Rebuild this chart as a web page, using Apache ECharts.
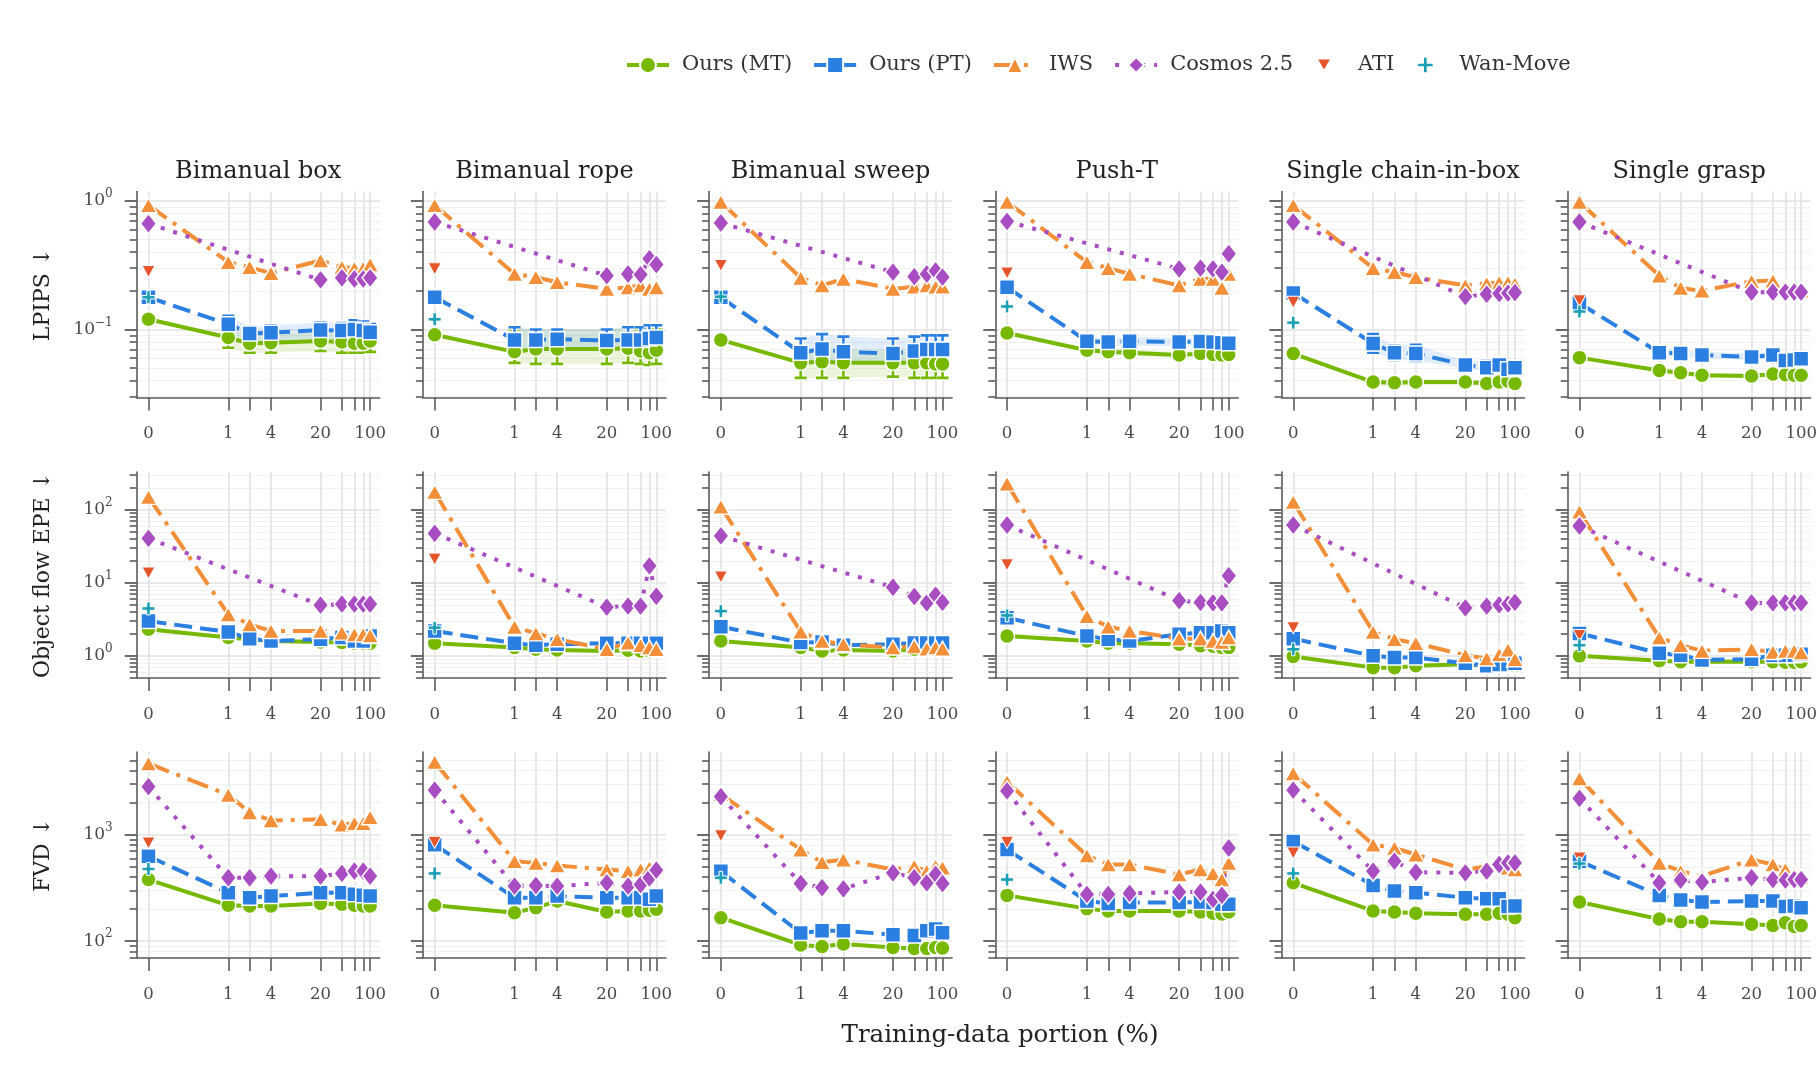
<!DOCTYPE html>
<html><head><meta charset="utf-8">
<script src="https://cdn.jsdelivr.net/npm/echarts@6/dist/echarts.min.js"></script>
<style>html,body{margin:0;padding:0;background:#fff}#c{width:1820px;height:1066px}</style>
</head><body><div id="c"></div>
<script>
// ---------------- DATA ----------------
const tasks = ['Bimanual box','Bimanual rope','Bimanual sweep','Push-T','Single chain-in-box','Single grasp'];
const metrics = ['LPIPS ↓','Object flow EPE ↓','FVD ↓'];
const methods = ['Ours (MT)','Ours (PT)','IWS','Cosmos 2.5','ATI','Wan-Move'];
const xs = [0,1,2,4,20,40,60,80,100];
const xLabelValues = [0,1,4,20,100];
const xErr = [1,2,4,20,40,60,80,100];

// LPIPS
const lpipsMT = [
 [0.120,0.0866,0.0778,0.079,0.0815,0.080,0.078,0.078,0.0815],
 [0.091,0.067,0.0705,0.0705,0.0705,0.0716,0.068,0.066,0.069],
 [0.083,0.055,0.056,0.055,0.055,0.055,0.055,0.054,0.054],
 [0.094,0.069,0.067,0.066,0.0634,0.065,0.064,0.0634,0.064],
 [0.065,0.039,0.0385,0.039,0.039,0.038,0.039,0.0395,0.038],
 [0.0604,0.048,0.046,0.044,0.0435,0.045,0.0445,0.044,0.044]];
const lpipsPT = [
 [0.178,0.110,0.093,0.0945,0.099,0.098,0.100,0.098,0.095],
 [0.178,0.083,0.083,0.084,0.082,0.083,0.083,0.085,0.0866],
 [0.178,0.066,0.0705,0.067,0.065,0.068,0.070,0.070,0.070],
 [0.213,0.081,0.080,0.081,0.080,0.0805,0.080,0.079,0.078],
 [0.192,0.0778,0.066,0.065,0.053,0.0505,0.053,0.049,0.0505],
 [0.160,0.066,0.065,0.0634,0.0611,0.0634,0.0575,0.058,0.0593]];
const lpipsIWS = [
 [0.925,0.334,0.305,0.274,0.344,0.305,0.300,0.300,0.320],
 [0.925,0.270,0.255,0.233,0.207,0.212,0.220,0.207,0.212],
 [0.980,0.252,0.220,0.247,0.207,0.215,0.220,0.215,0.215],
 [0.980,0.334,0.300,0.270,0.220,0.247,0.247,0.210,0.270],
 [0.925,0.300,0.279,0.255,0.220,0.228,0.232,0.232,0.226],
 [0.980,0.262,0.210,0.200,0.237,0.240,0.215,0.205,0.200]];
const lpipsCosmos = [
 [0.665,null,null,null,0.243,0.252,0.247,0.247,0.252],
 [0.685,null,null,null,0.262,0.270,0.267,0.355,0.320],
 [0.673,null,null,null,0.279,0.258,0.270,0.285,0.255],
 [0.694,null,null,null,0.296,0.300,0.296,0.279,0.388],
 [0.685,null,null,null,0.180,0.188,0.190,0.192,0.194],
 [0.685,null,null,null,0.195,0.195,0.195,0.195,0.195]];
const lpipsATI = [0.282,0.296,0.315,0.275,0.163,0.167];
const lpipsWan = [0.178,0.120,0.180,0.151,0.113,0.138];
// LPIPS spread (x = 1..100)
const lpipsMTLo = [
 [0.072,0.066,0.066,0.068,0.066,0.066,0.066,0.067],
 [0.055,0.054,0.054,0.054,0.055,0.054,0.053,0.054],
 [0.042,0.042,0.042,0.043,0.042,0.042,0.042,0.042],
 [0.064,0.063,0.062,0.060,0.061,0.060,0.060,0.061],
 [0.037,0.036,0.037,0.037,0.036,0.037,0.037,0.036],
 [0.045,0.044,0.042,0.042,0.043,0.042,0.042,0.042]];
const lpipsMTHi = [
 [0.100,0.090,0.092,0.095,0.093,0.091,0.091,0.095],
 [0.100,0.100,0.100,0.100,0.104,0.100,0.095,0.100],
 [0.070,0.072,0.070,0.070,0.070,0.070,0.070,0.070],
 [0.073,0.071,0.070,0.067,0.069,0.068,0.067,0.068],
 [0.041,0.041,0.041,0.041,0.040,0.041,0.042,0.040],
 [0.051,0.048,0.046,0.045,0.047,0.047,0.046,0.046]];
const lpipsPTLo = [
 [0.095,0.080,0.080,0.085,0.083,0.085,0.083,0.082],
 [0.072,0.072,0.072,0.070,0.072,0.072,0.073,0.074],
 [0.055,0.058,0.056,0.055,0.056,0.057,0.057,0.057],
 [0.075,0.074,0.075,0.074,0.075,0.074,0.073,0.072],
 [0.066,0.058,0.057,0.050,0.047,0.047,0.045,0.047],
 [0.062,0.061,0.060,0.058,0.060,0.055,0.055,0.056]];
const lpipsPTHi = [
 [0.128,0.105,0.108,0.113,0.112,0.118,0.115,0.110],
 [0.104,0.100,0.100,0.100,0.104,0.104,0.108,0.108],
 [0.085,0.092,0.088,0.085,0.088,0.090,0.090,0.090],
 [0.088,0.086,0.088,0.086,0.086,0.086,0.085,0.084],
 [0.092,0.075,0.076,0.057,0.057,0.058,0.056,0.055],
 [0.071,0.069,0.067,0.065,0.067,0.061,0.062,0.063]];

// Object flow EPE
const epeMT = [
 [2.31,1.78,1.69,1.60,1.55,1.52,1.49,1.49,1.49],
 [1.49,1.30,1.23,1.20,1.17,1.19,1.17,1.17,1.20],
 [1.60,1.30,1.17,1.20,1.17,1.23,1.23,1.23,1.23],
 [1.87,1.60,1.49,1.49,1.44,1.38,1.35,1.30,1.30],
 [0.98,0.69,0.69,0.73,0.77,0.73,0.75,0.75,0.73],
 [1.00,0.855,0.83,0.83,0.83,0.83,0.82,0.82,0.83]];
const epePT = [
 [2.99,2.12,1.72,1.60,1.69,1.78,1.60,1.60,1.87],
 [2.19,1.49,1.40,1.44,1.49,1.49,1.49,1.49,1.49],
 [2.50,1.52,1.55,1.40,1.44,1.50,1.50,1.50,1.50],
 [3.32,1.87,1.69,1.60,1.97,2.08,2.08,2.19,2.08],
 [1.72,1.00,0.95,0.95,0.79,0.73,0.76,0.76,0.79],
 [2.03,1.09,1.02,0.88,0.90,1.02,1.02,1.02,1.05]];
const epeIWS = [
 [150,3.69,2.70,2.19,2.19,2.08,1.97,1.97,1.91],
 [176,2.48,2.03,1.69,1.23,1.52,1.40,1.30,1.23],
 [110,2.14,1.60,1.44,1.30,1.35,1.25,1.30,1.25],
 [228,3.50,2.50,2.19,1.72,1.72,1.60,1.55,1.78],
 [128,2.12,1.69,1.49,1.02,0.92,1.05,1.21,0.90],
 [94,1.78,1.40,1.17,1.23,1.13,1.17,1.17,1.11]];
const epeCosmos = [
 [40.7,null,null,null,4.94,5.1,5.1,5.1,5.1],
 [47.6,null,null,null,4.64,4.8,4.8,17.1,6.55],
 [43.8,null,null,null,8.7,6.5,5.3,6.8,5.4],
 [61.9,null,null,null,5.72,5.4,5.3,5.3,12.5],
 [61.9,null,null,null,4.55,4.8,5.0,5.1,5.4],
 [60.0,null,null,null,5.3,5.3,5.3,5.3,5.3]];
const epeATI = [13.6,21.1,12.0,17.7,2.43,1.9];
const epeWan = [4.45,2.43,4.1,3.58,1.23,1.4];

// FVD
const fvdMT = [
 [379,217,214,214,226,222,217,214,214],
 [217,185,206,238,188,192,192,195,199],
 [166,92,89,94,87,85,85,87,86],
 [269,202,192,192,192,188,183,180,188],
 [353,192,188,183,179,179,183,179,166],
 [233,161,152,152,144,140,149,137,140]];
const fvdPT = [
 [627,285,256,265,285,285,275,270,265],
 [806,256,256,265,256,256,256,247,265],
 [454,119,125,125,115,113,125,130,120],
 [725,238,226,230,230,233,230,222,222],
 [866,334,295,285,256,250,250,211,214],
 [564,269,243,233,238,238,211,214,206]];
const fvdIWS = [
 [4680,2370,1620,1360,1400,1240,1285,1285,1460],
 [4840,564,543,513,471,455,471,490,500],
 [2400,725,551,583,471,505,455,505,490],
 [3150,637,525,525,423,471,433,380,543],
 [3770,806,750,650,471,505,525,490,471],
 [3390,543,454,408,583,525,471,430,400]];
const fvdCosmos = [
 [2830,394,394,408,408,433,455,455,408],
 [2630,329,333,329,353,329,340,394,464],
 [2280,348,318,310,438,394,353,424,348],
 [2580,275,275,281,289,289,247,269,750],
 [2630,454,564,444,438,454,525,543,543],
 [2200,353,374,359,394,379,374,379,379]];
const fvdATI = [836,848,980,848,674,605];
const fvdWan = [477,433,394,379,433,536];

// y-axis ranges (log10) per row
const yLogRange = [[-1.529,0.073],[-0.303,2.517],[1.841,3.778]];

// ---------------- BUILD ----------------
const FONT = "'DejaVu Serif', serif";
const ZERO_POS = -1.126;
const tx = x => (x === 0 ? ZERO_POS : Math.log10(x));
const ty = v => (v == null ? null : Math.log10(v));

const rows = [
 {MT: lpipsMT, PT: lpipsPT, IWS: lpipsIWS, COS: lpipsCosmos, ATI: lpipsATI, WAN: lpipsWan,
  band: {MT: [lpipsMTLo, lpipsMTHi], PT: [lpipsPTLo, lpipsPTHi]}},
 {MT: epeMT, PT: epePT, IWS: epeIWS, COS: epeCosmos, ATI: epeATI, WAN: epeWan},
 {MT: fvdMT, PT: fvdPT, IWS: fvdIWS, COS: fvdCosmos, ATI: fvdATI, WAN: fvdWan}
];

const plusPath = 'path://M4,0h3v4h4v3h-4v4h-3v-4h-4v-3h4z';
const downTri = 'path://M0,0L12,0L6,11Z';
const sty = {
 MT:  {name: methods[0], color: '#76b900', symbol: 'circle',  size: 15, type: 'solid'},
 PT:  {name: methods[1], color: '#2b7fe0', symbol: 'rect',    size: 15, type: [18, 8]},
 IWS: {name: methods[2], color: '#f28f38', symbol: 'triangle',size: [17, 15], type: [22, 8, 4, 8]},
 COS: {name: methods[3], color: '#a94ec2', symbol: 'diamond', size: [16, 20], type: [4, 9]},
 ATI: {name: methods[4], color: '#e5542b', symbol: downTri,   size: [13, 12]},
 WAN: {name: methods[5], color: '#1b9fb6', symbol: plusPath,  size: 13}
};

const PANEL_W = 243, PANEL_H = 206, COL0 = 136.7, COL_STEP = 286.2;
const rowTop = [191.5, 472, 752];
const X_MIN = -1.292, X_MAX = 2.135;

const grids = [], xAxes = [], yAxes = [], series = [], graphics = [];
const axisColor = '#5b5b5b';

function fmtX(v) {
  for (const x of xLabelValues) if (Math.abs(tx(x) - v) < 1e-6) return String(x);
  return '';
}
function fmtY(v) {
  const d = Math.round(v);
  return '{b|10}{s|' + (d < 0 ? '\u2212' + (-d) : String(d)) + '}';
}

for (let r = 0; r < 3; r++) {
  const [ymin, ymax] = yLogRange[r];
  const major = [], minor = [];
  for (let d = Math.floor(ymin) - 1; d <= Math.ceil(ymax); d++) {
    if (d >= ymin - 1e-9 && d <= ymax + 1e-9) major.push(d);
    for (let k = 2; k <= 9; k++) {
      const m = d + Math.log10(k);
      if (m >= ymin && m <= ymax) minor.push(m);
    }
  }
  const D = rows[r];
  for (let c = 0; c < 6; c++) {
    const p = r * 6 + c;
    const L = COL0 + c * COL_STEP;
    grids.push({left: L, top: rowTop[r], width: PANEL_W, height: PANEL_H});
    xAxes.push({
      type: 'value', gridIndex: p, min: X_MIN, max: X_MAX, position: 'bottom',
      axisLine: {show: true, onZero: false, lineStyle: {color: axisColor, width: 1.6}},
      axisTick: {show: true, customValues: xs.map(tx), length: 13, lineStyle: {color: axisColor, width: 1.6}},
      axisLabel: {show: true, customValues: xLabelValues.map(tx), formatter: fmtX, margin: 28,
                  fontFamily: FONT, fontSize: 16.5, color: '#4a4a4a'},
      splitLine: {show: true, lineStyle: {color: '#e4e4e4', width: 1.6}}
    });
    yAxes.push({
      type: 'value', gridIndex: p, min: ymin, max: ymax, position: 'left', offset: 0,
      axisLine: {show: true, onZero: false, lineStyle: {color: axisColor, width: 1.6}},
      axisTick: {show: true, customValues: major, length: 12, lineStyle: {color: axisColor, width: 1.8}},
      axisLabel: {show: c === 0, customValues: major, formatter: fmtY, margin: 24,
        rich: {
          b: {fontFamily: FONT, fontSize: 17, color: '#4a4a4a'},
          s: {fontFamily: FONT, fontSize: 12, color: '#4a4a4a', padding: [0, 0, 14, 0]}
        }},
      splitLine: {show: true, lineStyle: {color: '#e2e2e2', width: 1.6}}
    });
    yAxes.push({
      type: 'value', gridIndex: p, min: ymin, max: ymax, position: 'left', offset: 0,
      axisLine: {show: false, onZero: false},
      axisTick: {show: true, customValues: minor, length: 7, lineStyle: {color: axisColor, width: 1.6}},
      axisLabel: {show: false},
      splitLine: {show: true, lineStyle: {color: '#f1f1f1', width: 1}}
    });
    const yi = 2 * p;

    // ribbons + error bars (where spread data exist)
    if (D.band) {
      for (const key of ['MT', 'PT']) {
        const [lo, hi] = D.band[key];
        const s = sty[key];
        const bandData = xErr.map((x, i) => [tx(x), ty(lo[c][i]), ty(hi[c][i])]);
        series.push({
          type: 'custom', name: key + '-band', xAxisIndex: p, yAxisIndex: yi, z: 1, silent: true, clip: true,
          data: bandData, encode: {x: 0, y: [1, 2]},
          renderItem: (params, api) => {
            if (params.dataIndex !== 0) return null;
            const n = params.dataInsideLength, pts = [];
            for (let i = 0; i < n; i++) pts.push(api.coord([api.value(0, i), api.value(1, i)]));
            for (let i = n - 1; i >= 0; i--) pts.push(api.coord([api.value(0, i), api.value(2, i)]));
            return {type: 'polygon', shape: {points: pts}, style: {fill: s.color, opacity: 0.14}};
          }
        });
        series.push({
          type: 'custom', name: key + '-err', xAxisIndex: p, yAxisIndex: yi, z: 3, silent: true, clip: true,
          data: bandData, encode: {x: 0, y: [1, 2]},
          renderItem: (params, api) => {
            const a = api.coord([api.value(0), api.value(1)]);
            const b = api.coord([api.value(0), api.value(2)]);
            const h = 6;
            const mk = (w, col) => [
              {type: 'line', shape: {x1: a[0], y1: a[1], x2: b[0], y2: b[1]}, style: {stroke: col, lineWidth: w}},
              {type: 'line', shape: {x1: a[0] - h, y1: a[1], x2: a[0] + h, y2: a[1]}, style: {stroke: col, lineWidth: w}},
              {type: 'line', shape: {x1: b[0] - h, y1: b[1], x2: b[0] + h, y2: b[1]}, style: {stroke: col, lineWidth: w}}
            ];
            return {type: 'group', children: mk(5, '#ffffff').concat(mk(2.6, s.color))};
          }
        });
      }
    }

    // lines + points for the four curve methods
    for (const key of ['MT', 'PT', 'IWS', 'COS']) {
      const s = sty[key];
      const pts = [];
      xs.forEach((x, i) => { const v = D[key][c][i]; if (v != null) pts.push([tx(x), ty(v)]); });
      series.push({
        type: 'line', name: s.name, xAxisIndex: p, yAxisIndex: yi, z: 2,
        data: pts, showSymbol: false, symbol: s.symbol, symbolSize: s.size, silent: true,
        itemStyle: {color: s.color, borderColor: '#fff', borderWidth: 1.5},
        lineStyle: {color: s.color, width: 4, type: s.type, cap: 'butt'},
        emphasis: {disabled: true}, animation: false
      });
      series.push({
        type: 'scatter', name: s.name + ' pts', xAxisIndex: p, yAxisIndex: yi, z: 4,
        data: pts, symbol: s.symbol, symbolSize: s.size, silent: true,
        itemStyle: {color: s.color, borderColor: '#fff', borderWidth: 1.5, opacity: 1},
        emphasis: {disabled: true}, animation: false
      });
    }
    // single-point baselines at 0 %
    for (const key of ['ATI', 'WAN']) {
      const s = sty[key];
      series.push({
        type: 'scatter', name: s.name, xAxisIndex: p, yAxisIndex: yi, z: 5,
        data: [[tx(0), ty(D[key][c])]], symbol: s.symbol, symbolSize: s.size,
        silent: true,
        itemStyle: {color: s.color, borderColor: '#fff', borderWidth: 1, opacity: 1},
        emphasis: {disabled: true}, animation: false
      });
    }

    if (r === 0) {
      graphics.push({type: 'text', x: L + PANEL_W / 2, y: 172, silent: true,
        style: {text: tasks[c], fontFamily: FONT, fontSize: 24, fill: '#222', align: 'center', verticalAlign: 'middle'}});
    }
  }
  graphics.push({type: 'text', x: 43, y: rowTop[r] + PANEL_H / 2, rotation: Math.PI / 2, silent: true,
    style: {text: metrics[r], fontFamily: FONT, fontSize: 22, fill: '#222', align: 'center', verticalAlign: 'middle'}});
}
graphics.push({type: 'text', x: 1000, y: 1036, silent: true,
  style: {text: 'Training-data portion (%)', fontFamily: FONT, fontSize: 24.5, fill: '#222', align: 'center', verticalAlign: 'middle'}});

const legendData = methods.map(n => ({name: n}));
legendData[4].icon = 'path://M0,0M17,17M2,3L15,3L8.5,14Z';
legendData[5].icon = 'path://M0,0M17,17M6.5,1.5h4v5h5v4h-5v5h-4v-5h-5v-4h5z';

const chart = echarts.init(document.getElementById('c'), null, {renderer: 'canvas'});
chart.setOption({
  animation: false,
  backgroundColor: '#ffffff',
  legend: {
    data: legendData, left: 620, top: 49, itemWidth: 42, itemHeight: 20, itemGap: 20,
    lineStyle: {width: 4},
    textStyle: {fontFamily: FONT, fontSize: 21, color: '#333', padding: [0, 0, 0, 8]},
    selectedMode: false
  },
  grid: grids, xAxis: xAxes, yAxis: yAxes, series: series, graphic: graphics
});
</script></body></html>
